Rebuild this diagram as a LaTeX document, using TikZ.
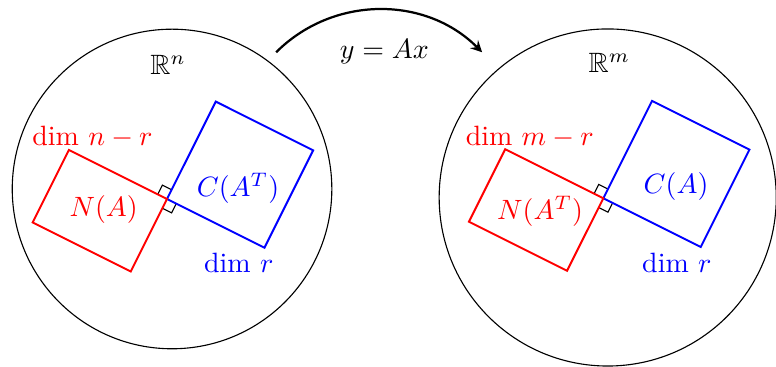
\documentclass[tikz,border=0pt]{standalone}
\usepackage{amsmath,amssymb}
\usepackage{xcolor}
\usepackage{tikz}

\begin{document}
\begin{tikzpicture}[>=stealth]
            \useasboundingbox (-2.164,-2.239) rectangle (7.597,2.377);
            % domain R^n
            \draw (0,0) circle (2.01);
            \node (Rn) at (-0.05,1.56) {$\mathbb{R}^n$};
            \begin{scope}[shift={(-0.063,-0.126)}, rotate=-26.57]
                \draw (-0.13,0) -- (-0.13,0.13) -- (0,0.13);
                \draw (0.13,0) -- (0.13,-0.13) -- (0,-0.13);
                \draw[blue, line width=0.7pt] (0,0) rectangle (1.37,1.37);
                \draw[red, line width=0.7pt] (0,0) rectangle (-1.38,-1.02);
            \end{scope}
            \node[red] (dimN) at (-1.0,0.65) {$\text{dim } n-r$};
            \node[red] (NA) at (-0.86,-0.26) {$N(A)$};
            \node[blue] (CAT) at (0.83,0.01) {$C(A^T)$};
            \node[blue] (dimR) at (0.84,-0.93) {$\text{dim } r$};
            % codomain R^m
            \draw (5.48,-0.107) circle (2.12);
            \node (Rm) at (5.5,1.58) {$\mathbb{R}^m$};
            \begin{scope}[shift={(5.425,-0.117)}, rotate=-26.57]
                \draw (-0.13,0) -- (-0.13,0.13) -- (0,0.13);
                \draw (0.13,0) -- (0.13,-0.13) -- (0,-0.13);
                \draw[blue, line width=0.7pt] (0,0) rectangle (1.37,1.37);
                \draw[red, line width=0.7pt] (0,0) rectangle (-1.38,-1.02);
            \end{scope}
            \node[red] (dimNT) at (4.5,0.65) {$\text{dim } m-r$};
            \node[red] (NAT) at (4.63,-0.28) {$N(A^T)$};
            \node[blue] (CA) at (6.34,0.03) {$C(A)$};
            \node[blue] (dimRm) at (6.35,-0.93) {$\text{dim } r$};
            % the map
            \coordinate (from) at (1.31,1.72);
            \coordinate (to) at (3.9,1.72);
            \draw[->, thick] (from) to[bend left=45] (to);
            \node (map) at (2.67,1.73) {$y = Ax$};
        \end{tikzpicture}
\end{document}
